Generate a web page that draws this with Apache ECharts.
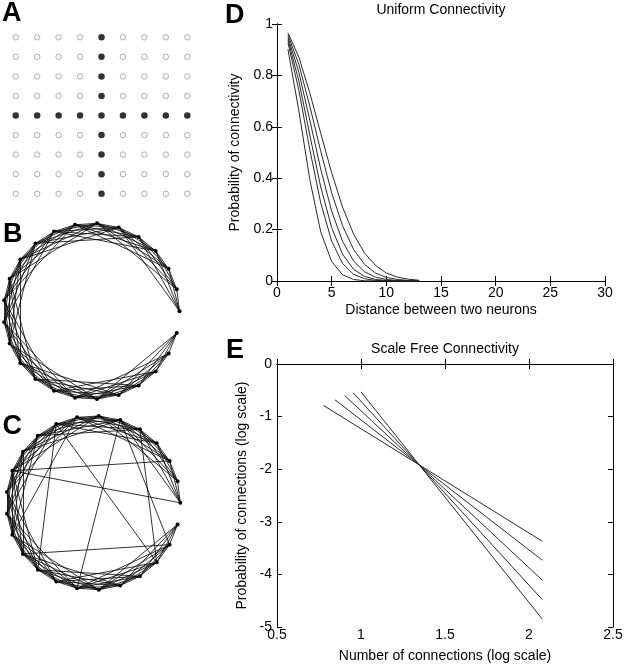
<!DOCTYPE html>
<html><head><meta charset="utf-8">
<script src="https://cdn.jsdelivr.net/npm/echarts@6.0.0/dist/echarts.min.js"></script>
<style>html,body{margin:0;padding:0;background:#fff}#c{width:625px;height:666px}</style>
</head><body><div id="c"></div>
<script>
// ---------- Panel A: 9x9 lattice, active row/column ----------
const latticeCols = [1,2,3,4,5,6,7,8,9];
const latticeRows = [1,2,3,4,5,6,7,8,9];
const activeCol = 5;
const activeRow = 5;

// ---------- Panels B / C: ring of neurons ----------
const nodeAngles = [0,14.4,28.8,43.2,57.6,72,86.4,100.8,115.2,129.6,144,158.4,172.8,187.2,201.6,216,230.4,244.8,259.2,273.6,288,302.4,316.8,331.2,345.6];
const neighbourSpan = 5;
const longRangeLinks = [[11,0],[11,2],[8,22],[5,18],[8,16],[15,23],[7,14],[5,23],[4,22]];

// ---------- Panel D: uniform connectivity ----------
const distances = [1,2,3,4,5,6,7,8,9,10,11,12,13];
const uniformCurve1 = [0.902,0.662,0.395,0.191,0.076,0.024,0.006,0.001,0,0,0,0,0];
const uniformCurve2 = [0.928,0.742,0.511,0.304,0.155,0.068,0.026,0.009,0.002,0.001,0,0,0];
const uniformCurve3 = [0.939,0.778,0.568,0.366,0.208,0.104,0.046,0.018,0.006,0.002,0.001,0,0];
const uniformCurve4 = [0.949,0.812,0.626,0.435,0.272,0.154,0.078,0.036,0.015,0.006,0.002,0.001,0];
const uniformCurve5 = [0.958,0.843,0.681,0.505,0.343,0.215,0.123,0.065,0.031,0.014,0.006,0.002,0.001];
const uniformCurve6 = [0.966,0.871,0.732,0.575,0.421,0.287,0.183,0.109,0.061,0.031,0.015,0.007,0.003];
const uniformCurves = [uniformCurve1,uniformCurve2,uniformCurve3,uniformCurve4,uniformCurve5,uniformCurve6];

// ---------- Panel E: scale free connectivity ----------
const logConnStart = [0.778,0.845,0.903,0.954,1.0];
const logConnEnd   = [2.079,2.079,2.079,2.079,2.079];
const logProbStart = [-0.79,-0.68,-0.60,-0.55,-0.53];
const logProbEnd   = [-3.37,-3.73,-4.11,-4.48,-4.85];

// ---------- Ticks ----------
const dXTicks = {min:0,max:30,interval:5};
const dYTicks = {min:0,max:1,interval:0.2};
const eXTicks = {min:0.5,max:2.5,interval:0.5};
const eYTicks = {min:-5,max:0,interval:1};

const FONT = '"Liberation Sans", Arial, Helvetica, sans-serif';
const chart = echarts.init(document.getElementById('c'), null, {renderer:'canvas'});

const openCells = [], filledCells = [];
latticeRows.forEach(r => latticeCols.forEach(c => {
  if (r === activeRow || c === activeCol) filledCells.push([c, r]);
  else openCells.push([c, r]);
}));

const ringLinks = [];
for (let i = 0; i < nodeAngles.length; i++)
  for (let j = i + 1; j <= Math.min(i + neighbourSpan, nodeAngles.length - 1); j++)
    ringLinks.push({source: i, target: j});
const smallWorldLinks = ringLinks.concat(longRangeLinks.map(p => ({source: p[0], target: p[1]})));
const ringNodes = nodeAngles.map((a, i) => ({name: 'n' + i, value: [1, a]}));

const axisBlack = {lineStyle:{color:'#000', width:1}};
function boxAxes(gridIndex, xt, yt, xLabelMargin, yLabelMargin, xName, yName, xGap, yGap) {
  const tick = {inside:true, length:5, lineStyle:{color:'#000'}};
  const lab = {color:'#000', fontSize:14, fontFamily:FONT};
  return {
    x: [
      {gridIndex, type:'value', min:xt.min, max:xt.max, interval:xt.interval, position:'bottom',
       axisLine:axisBlack, axisTick:tick, splitLine:{show:false},
       axisLabel:Object.assign({margin:xLabelMargin}, lab),
       name:xName, nameLocation:'middle', nameGap:xGap,
       nameTextStyle:{color:'#000', fontSize:14, fontFamily:FONT}},
      {gridIndex, type:'value', min:xt.min, max:xt.max, interval:xt.interval, position:'top',
       axisLine:axisBlack, axisTick:tick, splitLine:{show:false}, axisLabel:{show:false}}
    ],
    y: [
      {gridIndex, type:'value', min:yt.min, max:yt.max, interval:yt.interval, position:'left',
       axisLine:axisBlack, axisTick:tick, splitLine:{show:false},
       axisLabel:Object.assign({margin:yLabelMargin}, lab),
       name:yName, nameLocation:'middle', nameGap:yGap,
       nameTextStyle:{color:'#000', fontSize:14, fontFamily:FONT}},
      {gridIndex, type:'value', min:yt.min, max:yt.max, interval:yt.interval, position:'right',
       axisLine:axisBlack, axisTick:tick, splitLine:{show:false}, axisLabel:{show:false}}
    ]
  };
}
const dAx = boxAxes(1, dXTicks, dYTicks, 5, 4, 'Distance between two neurons', 'Probability of connectivity', 22, 25);
const eAx = boxAxes(2, eXTicks, eYTicks, 1, 5, 'Number of connections (log scale)', 'Probability of connections (log scale)', 22, 15);

const hiddenAxis = (gi, min, max) => ({gridIndex:gi, type:'value', min, max, show:false, splitLine:{show:false}});

const series = [
  {type:'scatter', xAxisIndex:0, yAxisIndex:0, data:openCells, symbolSize:5.5,
   itemStyle:{color:'#fff', borderColor:'#9a9a9a', borderWidth:1}, silent:true},
  {type:'scatter', xAxisIndex:0, yAxisIndex:0, data:filledCells, symbolSize:6.5,
   itemStyle:{color:'#000'}, silent:true},
  {type:'graph', coordinateSystem:'polar', polarIndex:0, data:ringNodes, links:ringLinks,
   symbolSize:4, itemStyle:{color:'#000'}, lineStyle:{color:'#000', width:0.8, opacity:1, curveness:0}, silent:true},
  {type:'graph', coordinateSystem:'polar', polarIndex:1, data:ringNodes, links:smallWorldLinks,
   symbolSize:4, itemStyle:{color:'#000'}, lineStyle:{color:'#000', width:0.8, opacity:1, curveness:0}, silent:true}
];
uniformCurves.forEach(c => series.push({
  type:'line', xAxisIndex:1, yAxisIndex:1, showSymbol:false, symbol:'none',
  data: distances.map((d, i) => [d, c[i]]),
  lineStyle:{color:'#2a2a2a', width:1}, silent:true
}));
logConnStart.forEach((x0, i) => series.push({
  type:'line', xAxisIndex:3, yAxisIndex:3, showSymbol:false, symbol:'none',
  data: [[x0, logProbStart[i]], [logConnEnd[i], logProbEnd[i]]],
  lineStyle:{color:'#2a2a2a', width:1}, silent:true
}));

const letter = (t, x, y) => ({type:'text', x, y, silent:true,
  style:{text:t, font:'bold 27px ' + FONT, fill:'#000', textVerticalAlign:'top'}});
const titleText = (t, x, y) => ({type:'text', x, y, silent:true,
  style:{text:t, font:'14px ' + FONT, fill:'#000', textAlign:'center', textVerticalAlign:'top'}});

chart.setOption({
  animation:false,
  backgroundColor:'#fff',
  grid:[
    {left:5, top:27.5, width:193, height:176, outerBoundsMode:'none'},
    {left:277, top:24, right:20, bottom:385, outerBoundsMode:'none'},
    {left:277, top:364, right:12, bottom:39, outerBoundsMode:'none'}
  ],
  polar:[
    {center:[91.5, 311.2], radius:88},
    {center:[93.3, 502.8], radius:87}
  ],
  angleAxis:[
    {polarIndex:0, type:'value', min:0, max:360, startAngle:0, clockwise:false, show:false},
    {polarIndex:1, type:'value', min:0, max:360, startAngle:0, clockwise:false, show:false}
  ],
  radiusAxis:[
    {polarIndex:0, type:'value', min:0, max:1, show:false},
    {polarIndex:1, type:'value', min:0, max:1, show:false}
  ],
  xAxis:[hiddenAxis(0, 0.5, 9.5)].concat(dAx.x, eAx.x),
  yAxis:[Object.assign(hiddenAxis(0, 0.5, 9.5), {inverse:true})].concat(dAx.y, eAx.y),
  graphic:[
    letter('A', 2, 0.5), letter('B', 3, 221.5), letter('C', 2.5, 413),
    letter('D', 225, 2), letter('E', 226, 337),
    titleText('Uniform Connectivity', 441, 3),
    titleText('Scale Free Connectivity', 445, 342.5)
  ],
  series
});
</script>
</body></html>
